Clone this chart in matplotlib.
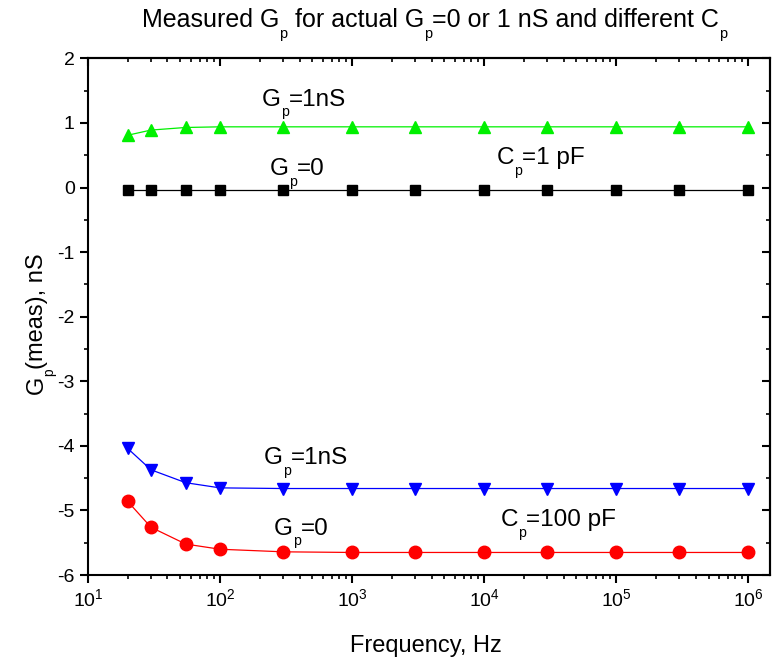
import numpy as np
import matplotlib
matplotlib.use("Agg")
import matplotlib.pyplot as plt
from matplotlib.ticker import LogLocator, MultipleLocator, NullFormatter
from matplotlib.font_manager import FontProperties
from matplotlib.transforms import offset_copy

FAMILY = ['Liberation Sans', 'DejaVu Sans']
plt.rcParams['font.family'] = FAMILY
plt.rcParams['mathtext.fontset'] = 'custom'
plt.rcParams['mathtext.rm'] = 'Liberation Sans'
plt.rcParams['mathtext.it'] = 'Liberation Sans:italic'
plt.rcParams['mathtext.default'] = 'regular'
plt.rcParams['axes.unicode_minus'] = False

# Frequencies (Hz) and measured Gp (nS)
freq = [20, 30, 55, 100, 300, 1000, 3000, 1e4, 3e4, 1e5, 3e5, 1e6]
gp1n_1pF = [0.81, 0.89, 0.93, 0.94, 0.94, 0.94, 0.94, 0.94, 0.94, 0.94, 0.94, 0.94]
gp0_1pF = [-0.04, -0.04, -0.04, -0.04, -0.04, -0.04, -0.04, -0.04, -0.04, -0.04, -0.04, -0.04]
gp1n_100pF = [-4.04, -4.37, -4.57, -4.65, -4.66, -4.66, -4.66, -4.66, -4.66, -4.66, -4.66, -4.66]
gp0_100pF = [-4.86, -5.26, -5.52, -5.60, -5.64, -5.65, -5.65, -5.65, -5.65, -5.65, -5.65, -5.65]

fig = plt.figure(figsize=(7.75, 6.61), dpi=100)
ax = fig.add_axes([0.1135, 0.130, 0.88, 0.7817])
renderer = fig.canvas.get_renderer()


def _width_pt(s, size):
    """Advance width of a string in points (spaces included)."""
    prop = FontProperties(family=FAMILY, size=size)
    w1 = renderer.get_text_width_height_descent('x' + s + 'x', prop, ismath=False)[0]
    w0 = renderer.get_text_width_height_descent('xx', prop, ismath=False)[0]
    return (w1 - w0) * 72.0 / fig.dpi


def rich_text(host, x, y, parts, size, transform, ha='left', rotation=0,
              sub_scale=0.58, drop=0.43):
    """Draw text made of (string, is_subscript) pieces with a deep subscript."""
    items = [(s, size * sub_scale if sub else size, -drop * size if sub else 0.0)
             for s, sub in parts]
    widths = [_width_pt(s, fs) for s, fs, _ in items]
    total = sum(widths)
    pos = {'left': 0.0, 'center': -total / 2, 'right': -total}[ha]
    th = np.deg2rad(rotation)
    c, sn = np.cos(th), np.sin(th)
    for (s, fs, dy), w in zip(items, widths):
        ox = pos * c - dy * sn
        oy = pos * sn + dy * c
        tr = offset_copy(transform, fig=fig, x=ox, y=oy, units='points')
        host.text(x, y, s, transform=tr, fontsize=fs, ha='left', va='baseline',
                  rotation=rotation, rotation_mode='anchor')
        pos += w


ax.plot(freq, gp1n_1pF, color='#00f000', lw=0.9, marker='^', ms=9)
ax.plot(freq, gp0_1pF, color='black', lw=0.9, marker='s', ms=7)
ax.plot(freq, gp1n_100pF, color='#0000ff', lw=0.9, marker='v', ms=9)
ax.plot(freq, gp0_100pF, color='#ff0000', lw=0.9, marker='o', ms=9)

ax.set_xscale('log')
ax.set_xlim(10, 1.46e6)
ax.set_ylim(-6, 2)
ax.xaxis.set_major_locator(LogLocator(base=10, numticks=10))
ax.xaxis.set_minor_locator(LogLocator(base=10, subs=range(2, 10), numticks=20))
ax.xaxis.set_minor_formatter(NullFormatter())
ax.yaxis.set_major_locator(MultipleLocator(1))
ax.yaxis.set_minor_locator(MultipleLocator(0.5))

for s in ax.spines.values():
    s.set_linewidth(1.5)
ax.tick_params(which='major', direction='out', length=6, width=1.5, labelsize=14)
ax.tick_params(which='minor', direction='out', length=3, width=1.2)

# Mirrored axes with inward ticks
top = ax.secondary_xaxis('top')
top.xaxis.set_major_locator(LogLocator(base=10, numticks=10))
top.xaxis.set_minor_locator(LogLocator(base=10, subs=range(2, 10), numticks=20))
top.xaxis.set_major_formatter(NullFormatter())
top.xaxis.set_minor_formatter(NullFormatter())
top.tick_params(which='major', direction='in', length=6, width=1.5)
top.tick_params(which='minor', direction='in', length=3, width=1.2)
right = ax.secondary_yaxis('right')
right.yaxis.set_major_locator(MultipleLocator(1))
right.yaxis.set_minor_locator(MultipleLocator(0.5))
right.yaxis.set_major_formatter(NullFormatter())
right.tick_params(which='major', direction='in', length=6, width=1.5)
right.tick_params(which='minor', direction='in', length=3, width=1.2)
for a in (top, right):
    for s in a.spines.values():
        s.set_linewidth(1.5)

# Title and axis labels
rich_text(fig, 142 / 775, 1 - 27 / 661,
          [('Measured G', False), ('p', True), (' for actual G', False), ('p', True),
           ('=0 or 1 nS and different C', False), ('p', True)],
          18, fig.transFigure)
fig.text(350 / 775, 9 / 661, 'Frequency, Hz', fontsize=17, ha='left', va='baseline')
rich_text(fig, 43 / 775, 1 - 253 / 661,
          [('G', False), ('p', True), ('(meas), nS', False)],
          17, fig.transFigure, ha='right', rotation=90)

# Curve annotations
fs = 17.5
rich_text(ax, 207, 1.27, [('G', False), ('p', True), ('=1nS', False)], fs, ax.transData)
rich_text(ax, 238, 0.19, [('G', False), ('p', True), ('=0', False)], fs, ax.transData)
rich_text(ax, 12400, 0.36, [('C', False), ('p', True), ('=1 pF', False)], fs, ax.transData)
rich_text(ax, 214, -4.285, [('G', False), ('p', True), ('=1nS', False)], fs, ax.transData)
rich_text(ax, 255, -5.38, [('G', False), ('p', True), ('=0', False)], fs, ax.transData)
rich_text(ax, 13300, -5.245, [('C', False), ('p', True), ('=100 pF', False)], fs, ax.transData)

fig.savefig('out.png', dpi=100)
